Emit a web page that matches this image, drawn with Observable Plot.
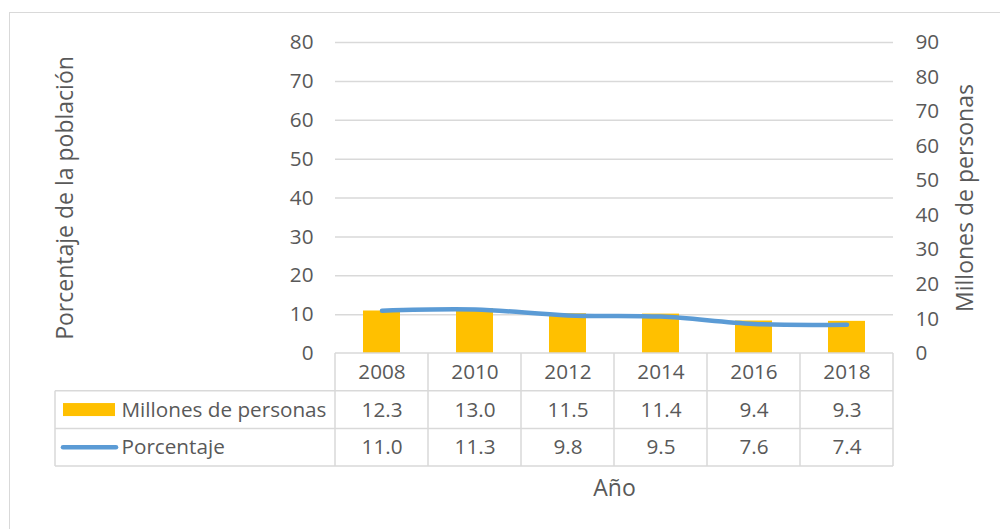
<!DOCTYPE html>
<html><head><meta charset="utf-8">
<script src="https://cdn.jsdelivr.net/npm/d3@7"></script>
<script src="https://cdn.jsdelivr.net/npm/@observablehq/plot@0.6"></script>
<style>
body{margin:0;width:1000px;height:529px;overflow:hidden;background:#fff;font-family:"Open Sans",sans-serif;position:relative;}
#chart{position:absolute;left:0;top:0;}
#frame{position:absolute;left:9px;top:12px;width:1200px;height:700px;border:1.5px solid #d9d9d9;pointer-events:none;}
</style></head><body><div id="chart"></div><div id="frame"></div>
<script>
const years = ["2008","2010","2012","2014","2016","2018"];
const millones = [12.3, 13.0, 11.5, 11.4, 9.4, 9.3];
const porcentaje = [11.0, 11.3, 9.8, 9.5, 7.6, 7.4];
const leftTicks = [0, 10, 20, 30, 40, 50, 60, 70, 80];
const rightTicks = [0, 10, 20, 30, 40, 50, 60, 70, 80, 90];
const seriesNames = ["Millones de personas", "Porcentaje"];
const leftTitle = "Porcentaje de la población";
const rightTitle = "Millones de personas";
const xTitle = "Año";

const ratio = 80 / 90; // right axis (0–90) mapped onto left axis (0–80)
const data = years.map((y, i) => ({year: y, m: millones[i], p: porcentaje[i]}));
const textColor = "#595959";
const rowH = 37.7;
const titleSize = 23;

const chart = Plot.plot({
  width: 1000, height: 529,
  marginLeft: 335, marginRight: 107, marginTop: 42, marginBottom: 176,
  style: {fontFamily: "'Open Sans', sans-serif", fontSize: "20.7px", color: textColor, background: "transparent", overflow: "visible"},
  x: {domain: years, padding: 0, axis: null},
  y: {domain: [0, 80], axis: null},
  marks: [
    Plot.gridY(leftTicks.filter(t => t > 0), {stroke: "#d9d9d9", strokeOpacity: 1, strokeWidth: 1.5}),
    Plot.axisY(leftTicks, {anchor: "left", tickSize: 0, tickPadding: 22, label: null, fill: textColor}),
    Plot.axisY(rightTicks.map(t => t * ratio), {anchor: "right", tickSize: 0, tickPadding: 22, label: null, fill: textColor, tickFormat: d => String(Math.round(d / ratio))}),
    Plot.barY(data, {x: "year", y: d => d.m * ratio, fill: "#FFC000", insetLeft: 28, insetRight: 28}),
    Plot.line(data, {x: "year", y: "p", stroke: "#5B9BD5", strokeWidth: 4.5, curve: "catmull-rom", strokeLinecap: "round"}),
    // table contents
    Plot.text(data, {x: "year", y: 0, dy: rowH / 2, text: "year", fill: textColor, lineAnchor: "middle"}),
    Plot.text(data, {x: "year", y: 0, dy: rowH * 1.5, text: d => d.m.toFixed(1), fill: textColor, lineAnchor: "middle"}),
    Plot.text(data, {x: "year", y: 0, dy: rowH * 2.5, text: d => d.p.toFixed(1), fill: textColor, lineAnchor: "middle"}),
    Plot.text([seriesNames[0]], {frameAnchor: "bottom-left", dx: -214, dy: rowH * 1.5, textAnchor: "start", lineAnchor: "middle", fill: textColor}),
    Plot.text([seriesNames[1]], {frameAnchor: "bottom-left", dx: -214, dy: rowH * 2.5, textAnchor: "start", lineAnchor: "middle", fill: textColor}),
    // titles
    Plot.text([leftTitle], {frameAnchor: "left", dx: -270, rotate: -90, textAnchor: "middle", lineAnchor: "middle", fill: textColor, fontSize: titleSize}),
    Plot.text([rightTitle], {frameAnchor: "right", dx: 72, rotate: -90, textAnchor: "middle", lineAnchor: "middle", fill: textColor, fontSize: titleSize}),
    Plot.text([xTitle], {frameAnchor: "bottom", dy: 135, textAnchor: "middle", lineAnchor: "middle", fill: textColor, fontSize: titleSize})
  ]
});
document.getElementById("chart").appendChild(chart);

// table grid and legend keys, positioned from the chart's own scales
const xs = chart.scale("x"), ys = chart.scale("y");
const bw = xs.bandwidth;
const x0 = xs.apply(years[0]), x1 = xs.apply(years[years.length - 1]) + bw;
const y0 = ys.apply(0);
const legendLeft = 55;
const svg = d3.select(chart);
const g = svg.append("g").attr("stroke", "#d9d9d9").attr("stroke-width", 1.5);
g.append("line").attr("x1", x0).attr("x2", x1).attr("y1", y0).attr("y2", y0);
for (let r = 1; r <= 3; r++) {
  g.append("line").attr("x1", legendLeft).attr("x2", x1).attr("y1", y0 + rowH * r).attr("y2", y0 + rowH * r);
}
years.forEach(y => {
  const xx = xs.apply(y);
  g.append("line").attr("x1", xx).attr("x2", xx).attr("y1", y0).attr("y2", y0 + rowH * 3);
});
g.append("line").attr("x1", x1).attr("x2", x1).attr("y1", y0).attr("y2", y0 + rowH * 3);
g.append("line").attr("x1", legendLeft).attr("x2", legendLeft).attr("y1", y0 + rowH).attr("y2", y0 + rowH * 3);
// legend keys
svg.append("rect").attr("x", 63).attr("y", y0 + rowH * 1.5 - 6.5).attr("width", 52).attr("height", 13).attr("fill", "#FFC000");
svg.append("line").attr("x1", 63).attr("x2", 116).attr("y1", y0 + rowH * 2.5).attr("y2", y0 + rowH * 2.5)
  .attr("stroke", "#5B9BD5").attr("stroke-width", 4.5).attr("stroke-linecap", "round");
</script>
</body></html>
